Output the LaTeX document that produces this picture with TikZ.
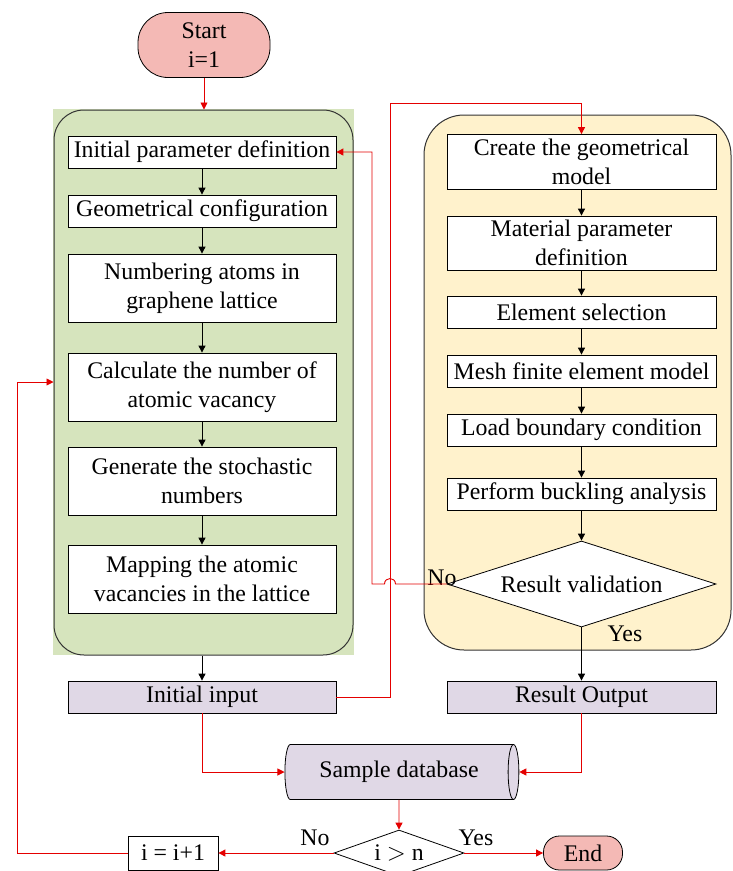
\documentclass[tikz,border=0pt]{standalone}
\usepackage{fontspec}
\setmainfont{Liberation Serif}
\usetikzlibrary{arrows.meta}
\usetikzlibrary{shapes.geometric}

\definecolor{grnbg}{RGB}{214,228,189}
\definecolor{ylwbg}{RGB}{255,242,204}
\definecolor{lavbg}{RGB}{224,216,230}
\definecolor{pinkbg}{RGB}{244,185,181}
\definecolor{flowred}{RGB}{228,0,0}

\begin{document}
\begin{tikzpicture}[x=1pt, y=-1pt,
  every node/.style={font=\fontsize{23.8}{29}\selectfont},
  box/.style={draw, line width=0.8pt, fill=white, align=center, inner sep=0pt,
    minimum width=268pt, minimum height=32pt},
  tallbox/.style={box, minimum height=68pt},
  lavbox/.style={box, fill=lavbg},
  term/.style={draw, line width=0.8pt, fill=pinkbg, align=center, inner sep=0pt},
  dia/.style={diamond, draw, line width=0.8pt, fill=white, inner sep=0pt},
  frame/.style={draw=black!80, line width=1pt},
  arr/.style={line width=0.9pt, -{Triangle[length=7pt,width=7pt]}},
  redarr/.style={arr, flowred},
]
\useasboundingbox (0,0) rectangle (732,871);

% start
\node[term, minimum width=132pt, minimum height=65pt, rounded corners=30pt]
  (strt) at (204,45) {Start\\i=1};

% left block
\fill[grnbg] (53,109) rectangle (354,655);
\node[frame, minimum width=299pt, minimum height=545pt, rounded corners=30pt]
  (grn) at (203.5,382.5) {};
\node[box] (gA) at (202,152) {Initial parameter definition};
\node[box] (gB) at (202,211) {Geometrical configuration};
\node[tallbox] (gC) at (202,288) {Numbering atoms in\\graphene lattice};
\node[tallbox] (gD) at (202,387) {Calculate the number of\\atomic vacancy};
\node[tallbox] (gE) at (202,481) {Generate the stochastic\\numbers};
\node[tallbox] (gF) at (202,579) {Mapping the atomic\\vacancies in the lattice};
\node[lavbox] (inp) at (202,697) {Initial input};

% right block
\node[frame, fill=ylwbg, minimum width=307pt, minimum height=535pt, rounded corners=40pt]
  (ylw) at (577.5,382.5) {};
\node[box, minimum width=269pt, minimum height=55pt] (cA) at (581.5,162) {Create the geometrical\\model};
\node[box, minimum width=269pt, minimum height=54pt] (cB) at (581.5,243) {Material parameter\\definition};
\node[box, minimum width=269pt] (cC) at (581.5,312) {Element selection};
\node[box, minimum width=269pt] (cD) at (581.5,371) {Mesh finite element model};
\node[box, minimum width=269pt] (cE) at (581.5,430) {Load boundary condition};
\node[box, minimum width=269pt] (cF) at (581.5,494) {Perform buckling analysis};
\node[dia, aspect=3.13, minimum width=269pt, minimum height=86pt] (rv) at (581.5,584) {Result validation};
\node[lavbox, minimum width=269pt] (outp) at (581.5,697) {Result Output};
\node (noA) at (442,578) {No};
\node (yesA) at (625,634) {Yes};

% bottom
\node[cylinder, shape aspect=0.5, draw, line width=0.8pt, fill=lavbg, inner sep=0pt,
  minimum width=55pt, minimum height=234pt] (db) at (399,772) {Sample database};
\node[dia, aspect=2.83, minimum width=130pt, minimum height=46pt] (dec) at (399,853) {i $>$ n};
\node[box, minimum width=90pt, minimum height=34pt] (inc) at (173,853) {i = i+1};
\node[term, minimum width=79pt, minimum height=34pt, rounded corners=16pt] (fin) at (583,853) {End};
\node (noB) at (315,838) {No};
\node (yesB) at (476,838) {Yes};

% black flow
\foreach \a/\b in {gA/gB,gB/gC,gC/gD,gD/gE,gE/gF,cA/cB,cB/cC,cC/cD,cD/cE,cE/cF,cF/rv,rv/outp}
  \draw[arr] (\a) -- (\b);
\draw[arr] (inp.north |- grn.south) -- (inp.north);

% red flow
\draw[redarr] (strt.south) -- (strt.south |- grn.north);
\draw[redarr] (inp.east) -- (390,697) -- (390,103) -| (cA.north);
\draw[redarr] (rv.west) -- (395.5,584) .. controls (395.5,576.7) and (384.5,576.7) .. (384.5,584)
  -- (372,584) |- (gA.east);
\draw[redarr] (inp.south) |- (db.west);
\draw[redarr] (outp.south) |- (db.east);
\draw[redarr] (db.south) -- (dec.north);
\draw[redarr] (dec.west) -- (inc.east);
\draw[redarr] (dec.east) -- (fin.west);
\coordinate (lp) at (17,382);
\draw[redarr] (inc.west) -| (lp) -- (lp -| grn.west);
\end{tikzpicture}
\end{document}
